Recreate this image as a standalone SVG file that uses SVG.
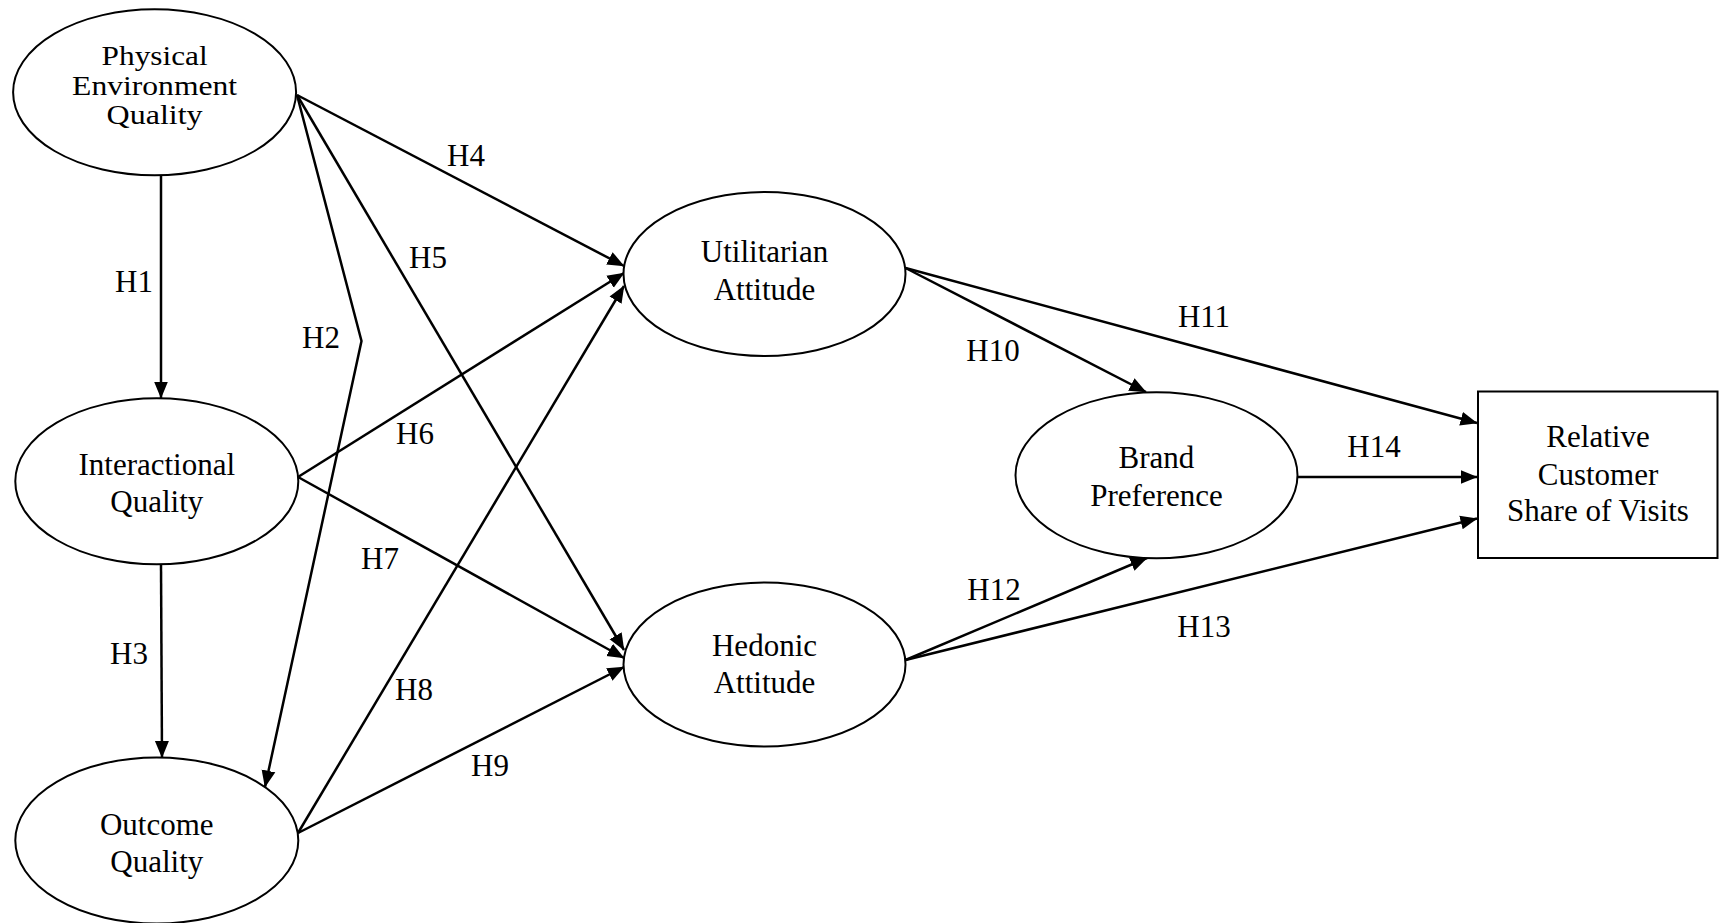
<svg xmlns="http://www.w3.org/2000/svg" width="1719" height="923" viewBox="0 0 1719 923">
<style>
  .node { fill: #ffffff; stroke: #000000; stroke-width: 2; }
  .edge { fill: none; stroke: #000000; stroke-width: 2.5; marker-end: url(#arr); }
  text { font-family: "Liberation Serif", "Times New Roman", serif; font-size: 31px; fill: #000000; text-anchor: middle; }
  .tight { font-size: 28px; }
</style>
<defs>
  <marker id="arr" markerWidth="18" markerHeight="16" refX="16.5" refY="7.5" orient="auto" markerUnits="userSpaceOnUse">
    <path d="M0,0.5 L17,7.5 L0,14.5 z" fill="#000000"/>
  </marker>
</defs>
<rect x="0" y="0" width="1719" height="923" fill="#ffffff"/>
<g id="connectors">
  <line class="edge" x1="161" y1="175.5" x2="161" y2="398"/>
  <line class="edge" x1="161" y1="564.5" x2="162" y2="757.5"/>
  <polyline class="edge" points="297,95 361.5,341 265,787"/>
  <line class="edge" x1="297" y1="95" x2="624" y2="266"/>
  <line class="edge" x1="297" y1="95" x2="624" y2="650"/>
  <line class="edge" x1="298" y1="477" x2="624" y2="273"/>
  <line class="edge" x1="298" y1="477" x2="624" y2="658"/>
  <line class="edge" x1="298" y1="833" x2="624" y2="286"/>
  <line class="edge" x1="298" y1="833" x2="624" y2="667"/>
  <line class="edge" x1="905.5" y1="268" x2="1146" y2="392"/>
  <line class="edge" x1="905.5" y1="268" x2="1477" y2="423"/>
  <line class="edge" x1="905.5" y1="660" x2="1147" y2="558"/>
  <line class="edge" x1="905.5" y1="660" x2="1477" y2="518.5"/>
  <line class="edge" x1="1297" y1="477" x2="1477" y2="477"/>
  <text x="134" y="292">H1</text>
  <text x="321" y="348">H2</text>
  <text x="129" y="664">H3</text>
  <text x="466" y="166">H4</text>
  <text x="428" y="268">H5</text>
  <text x="415" y="444">H6</text>
  <text x="380" y="569">H7</text>
  <text x="414" y="700">H8</text>
  <text x="490" y="776">H9</text>
  <text x="993" y="361">H10</text>
  <text x="1204" y="327">H11</text>
  <text x="994" y="600">H12</text>
  <text x="1204" y="637">H13</text>
  <text x="1374" y="457">H14</text>
</g>
<g id="physical-environment-quality">
  <ellipse class="node" cx="154.6" cy="92.3" rx="141.5" ry="83"/>
  <text class="tight" x="154.6" y="65" textLength="106" lengthAdjust="spacingAndGlyphs">Physical</text>
  <text class="tight" x="154.6" y="95" textLength="165" lengthAdjust="spacingAndGlyphs">Environment</text>
  <text class="tight" x="154.6" y="124" textLength="96" lengthAdjust="spacingAndGlyphs">Quality</text>
</g>
<g id="interactional-quality">
  <ellipse class="node" cx="156.8" cy="481.3" rx="141.5" ry="83"/>
  <text x="156.8" y="475">Interactional</text>
  <text x="156.8" y="512">Quality</text>
</g>
<g id="outcome-quality">
  <ellipse class="node" cx="156.8" cy="840.5" rx="141.5" ry="83"/>
  <text x="156.8" y="835">Outcome</text>
  <text x="156.8" y="872">Quality</text>
</g>
<g id="utilitarian-attitude">
  <ellipse class="node" cx="764.5" cy="274" rx="141" ry="82"/>
  <text x="764.5" y="262">Utilitarian</text>
  <text x="764.5" y="300">Attitude</text>
</g>
<g id="hedonic-attitude">
  <ellipse class="node" cx="764.5" cy="664.5" rx="141" ry="82"/>
  <text x="764.5" y="656">Hedonic</text>
  <text x="764.5" y="693">Attitude</text>
</g>
<g id="brand-preference">
  <ellipse class="node" cx="1156.5" cy="475.3" rx="141" ry="83"/>
  <text x="1156.5" y="468">Brand</text>
  <text x="1156.5" y="506">Preference</text>
</g>
<g id="relative-customer-share-of-visits">
  <rect class="node" x="1478" y="391.5" width="239.5" height="166.5"/>
  <text x="1598" y="447">Relative</text>
  <text x="1598" y="485">Customer</text>
  <text x="1598" y="521">Share of Visits</text>
</g>
</svg>
